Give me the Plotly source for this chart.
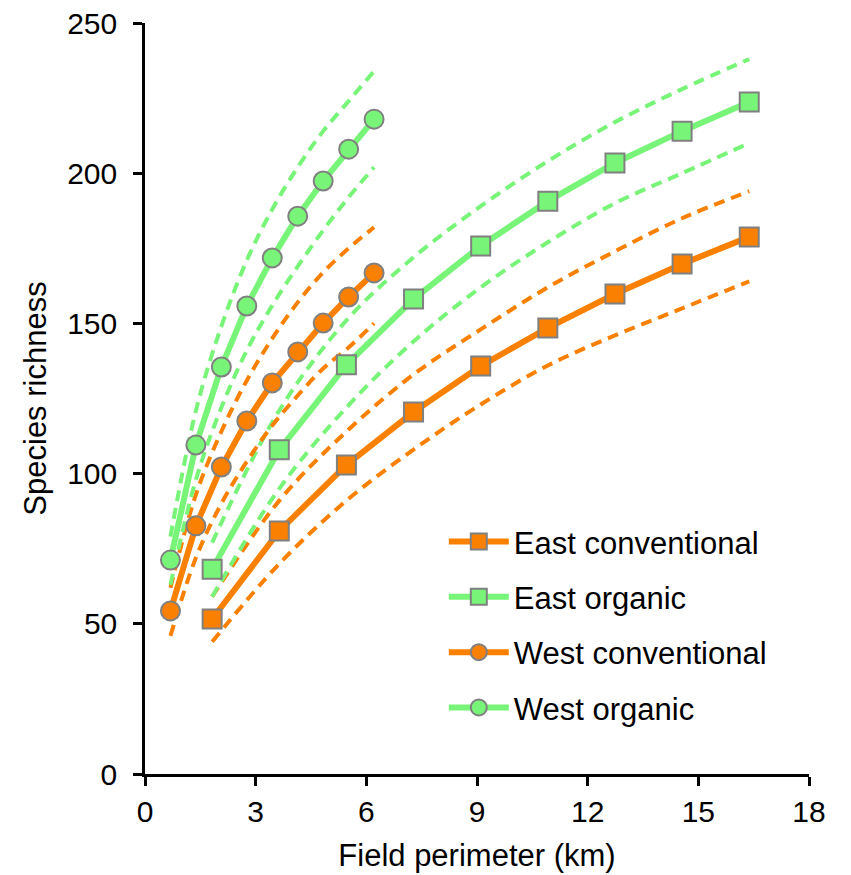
import plotly.graph_objects as go

# Field perimeter (km) at each sampling step
x_west = [0.69, 1.38, 2.07, 2.76, 3.45, 4.14, 4.83, 5.52, 6.21]
x_east = [1.82, 3.64, 5.46, 7.28, 9.10, 10.92, 12.74, 14.56, 16.38]

# Species richness estimates
east_conv = [51.6, 80.9, 102.9, 120.5, 135.8, 148.5, 159.8, 169.8, 178.8]
east_org = [68.2, 107.9, 136.2, 158.1, 175.8, 190.7, 203.4, 214.0, 223.7]
west_conv = [54.3, 82.6, 102.2, 117.5, 130.2, 140.5, 150.1, 158.8, 166.8]
west_org = [71.2, 109.5, 135.5, 155.8, 171.8, 185.7, 197.4, 208.0, 218.0]

# 95% confidence limits
east_conv_hi = [59, 91, 114, 133, 148, 162, 174, 185, 194]
east_conv_lo = [44, 70, 91, 108, 123, 136, 146, 155, 164]
east_org_hi = [77, 121, 151, 172, 189, 204, 217, 228, 238]
east_org_lo = [59, 95, 122, 144, 162, 177, 190, 200, 210]
west_conv_hi = [62, 93, 114, 131, 145, 157, 167, 175, 182]
west_conv_lo = [46, 72, 90, 104, 116, 126, 135, 142, 150]
west_org_hi = [79, 121, 149, 171, 188, 202, 214, 224, 234]
west_org_lo = [63, 98, 122, 141, 156, 169, 181, 192, 202]

ORANGE = "#F98000"
GREEN = "#78F578"
EDGE = "#808080"

series = [
    ("East conventional", x_east, east_conv, east_conv_hi, east_conv_lo, ORANGE, "square"),
    ("East organic", x_east, east_org, east_org_hi, east_org_lo, GREEN, "square"),
    ("West conventional", x_west, west_conv, west_conv_hi, west_conv_lo, ORANGE, "circle"),
    ("West organic", x_west, west_org, west_org_hi, west_org_lo, GREEN, "circle"),
]

fig = go.Figure()

# confidence bands (dashed)
for name, xs, ys, hi, lo, col, sym in series:
    for band in (hi, lo):
        fig.add_trace(go.Scatter(
            x=xs, y=band, mode="lines", showlegend=False, hoverinfo="skip",
            line=dict(color=col, width=4, dash="11px,7px", shape="spline", smoothing=1.0),
        ))

# mean curves with markers
for i, (name, xs, ys, hi, lo, col, sym) in enumerate(series):
    fig.add_trace(go.Scatter(
        x=xs, y=ys, mode="lines+markers", name=name, legendgroup=f"g{i}",
        line=dict(color=col, width=6),
        marker=dict(symbol=sym, size=19, color=col, line=dict(color=EDGE, width=2)),
    ))

FONT = "Liberation Sans, Arial, sans-serif"
tick_font = dict(family=FONT, size=30, color="#000000")

fig.update_layout(
    width=851, height=875,
    margin=dict(l=145, r=42, t=23, b=101),
    paper_bgcolor="white", plot_bgcolor="white",
    font=dict(family=FONT, size=30, color="#000000"),
    xaxis=dict(
        range=[0, 18], tickvals=[0, 3, 6, 9, 12, 15, 18], showgrid=False, zeroline=False,
        showline=True, linecolor="black", linewidth=2.5, automargin=False,
        ticks="outside", ticklen=9, tickwidth=2.5, tickcolor="black",
        tickfont=tick_font, ticklabelstandoff=0,
        title=dict(text="Field perimeter (km)", font=dict(size=31), standoff=18),
    ),
    yaxis=dict(
        range=[0, 250], tickvals=[0, 50, 100, 150, 200, 250], showgrid=False, zeroline=False,
        showline=True, linecolor="black", linewidth=2.5, automargin=False,
        ticks="outside", ticklen=9, tickwidth=2.5, tickcolor="black",
        tickfont=tick_font, ticklabelstandoff=10,
        title=dict(text="Species richness", font=dict(size=31), standoff=12),
    ),
    legend=dict(
        x=0.45, y=0.345, xanchor="left", yanchor="top",
        bgcolor="rgba(0,0,0,0)", font=dict(size=31),
        traceorder="grouped", tracegroupgap=12, itemwidth=60,
    ),
)

fig.write_html("out.html")
